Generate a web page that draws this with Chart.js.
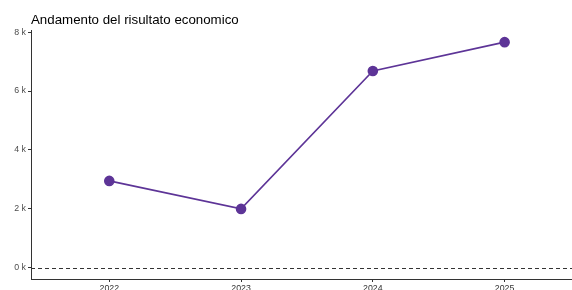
<!DOCTYPE html>
<html>
<head>
<meta charset="utf-8">
<script src="https://cdn.jsdelivr.net/npm/chart.js@4"></script>
<style>
html, body { margin: 0; padding: 0; background: #fff; overflow: hidden; }
</style>
</head>
<body>
<canvas id="lineChart" width="589" height="290"></canvas>
<script>
// data
var anni = [2022, 2023, 2024, 2025];
var risultato = [2950, 2000, 6680, 7660];
var yTicks = [0, 2000, 4000, 6000, 8000];
var refLine = 0;

var viola = '#5d3497';

// linea tratteggiata a zero
var zeroLine = {
  id: 'zeroLine',
  beforeDatasetsDraw: function(chart) {
    var ctx = chart.ctx, a = chart.chartArea;
    var y = Math.round(chart.scales.y.getPixelForValue(refLine)) + 0.5;
    ctx.save();
    ctx.strokeStyle = '#333333';
    ctx.lineWidth = 1;
    ctx.setLineDash([4, 3]);
    ctx.beginPath();
    ctx.moveTo(a.left, y);
    ctx.lineTo(a.right, y);
    ctx.stroke();
    ctx.restore();
  }
};

var ctxL = document.getElementById("lineChart").getContext('2d');
var myLineChart = new Chart(ctxL, {
type: 'line',
data: {
datasets: [{
label: "Risultato economico",
data: anni.map(function(a, i) { return { x: a, y: risultato[i] }; }),
borderColor: viola,
backgroundColor: viola,
pointBackgroundColor: viola,
pointBorderColor: viola,
pointRadius: 4.5,
borderWidth: 1.6,
tension: 0
}]
},
options: {
responsive: false,
animation: false,
layout: { padding: 0 },
plugins: {
  legend: { display: false },
  tooltip: { enabled: false },
  title: {
    display: true,
    text: 'Andamento del risultato economico',
    align: 'start',
    fullSize: false,
    color: '#000',
    font: { family: 'Liberation Sans, Arial, sans-serif', size: 13.3, weight: 'normal' },
    padding: { top: 12, bottom: 3 }
  }
},
scales: {
  x: {
    type: 'linear',
    min: 2021.406,
    max: 2025.594,
    afterBuildTicks: function(s) { s.ticks = anni.map(function(v) { return { value: v }; }); },
    afterFit: function(s) { s.height = 11; },
    grid: { drawOnChartArea: false, drawTicks: true, tickLength: 3, color: '#333333' },
    border: { display: true, color: '#333333', width: 1 },
    ticks: {
      color: '#333333',
      padding: 1,
      maxRotation: 0,
      font: { family: 'Liberation Sans, Arial, sans-serif', size: 8.8 },
      callback: function(v) { return String(v); }
    }
  },
  y: {
    min: -380,
    max: 8040,
    afterBuildTicks: function(s) { s.ticks = yTicks.map(function(v) { return { value: v }; }); },
    afterFit: function(s) { s.width = 31; },
    grid: { drawOnChartArea: false, drawTicks: true, tickLength: 3, color: '#333333' },
    border: { display: true, color: '#333333', width: 1 },
    ticks: {
      color: '#4d4d4d',
      padding: 2,
      font: { family: 'Liberation Sans, Arial, sans-serif', size: 8.8 },
      callback: function(v) { return (v / 1000) + ' k'; }
    }
  }
}
},
plugins: [zeroLine]
});
</script>
</body>
</html>
